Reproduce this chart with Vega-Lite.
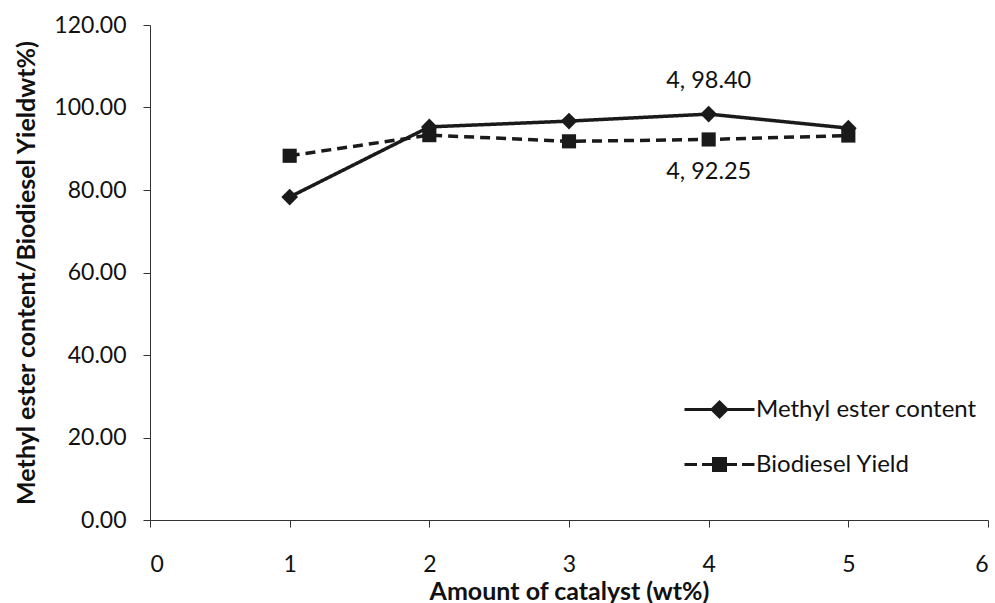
{
  "$schema": "https://vega.github.io/schema/vega-lite/v6.json",
  "width": 838,
  "height": 495,
  "autosize": "none",
  "padding": {"left": 150, "top": 25, "right": 7, "bottom": 83},
  "background": "white",
  "config": {
    "view": {"stroke": null},
    "font": "Lato",
    "axis": {"grid": false, "domainColor": "#333", "tickColor": "#333", "labelColor": "#111", "titleColor": "#111", "labelFont": "Lato", "titleFont": "Lato", "labelFontSize": 23, "titleFontSize": 25, "titleFontWeight": "bold", "tickSize": 7}
  },
  "data": {
    "values": [
      {"x": 1, "y": 78.3, "series": "Methyl ester content", "dash": "solid"},
      {"x": 2, "y": 95.3, "series": "Methyl ester content", "dash": "solid"},
      {"x": 3, "y": 96.7, "series": "Methyl ester content", "dash": "solid"},
      {"x": 4, "y": 98.4, "series": "Methyl ester content", "dash": "solid", "label": "4, 98.40"},
      {"x": 5, "y": 95.0, "series": "Methyl ester content", "dash": "solid"},
      {"x": 1, "y": 88.3, "series": "Biodiesel Yield", "dash": "dashed"},
      {"x": 2, "y": 93.3, "series": "Biodiesel Yield", "dash": "dashed"},
      {"x": 3, "y": 91.8, "series": "Biodiesel Yield", "dash": "dashed"},
      {"x": 4, "y": 92.25, "series": "Biodiesel Yield", "dash": "dashed", "label": "4, 92.25"},
      {"x": 5, "y": 93.2, "series": "Biodiesel Yield", "dash": "dashed"}
    ]
  },
  "encoding": {
    "x": {"field": "x", "type": "quantitative", "scale": {"domain": [0, 6], "nice": false}, "axis": {"values": [0,1,2,3,4,5,6], "title": "Amount of catalyst (wt%)", "labelPadding": 26, "titlePadding": 3}},
    "y": {"field": "y", "type": "quantitative", "scale": {"domain": [0, 120], "nice": false}, "axis": {"values": [0,20,40,60,80,100,120], "format": ".2f", "title": "Methyl ester content/Biodiesel Yieldwt%)", "labelPadding": 17, "titlePadding": 14}}
  },
  "layer": [
    {
      "mark": {"type": "line", "color": "#1a1a1a", "strokeWidth": 3.5},
      "encoding": {
        "strokeDash": {"field": "dash", "type": "nominal", "scale": {"domain": ["solid", "dashed"], "range": [[1, 0], [10, 6]]}, "legend": null}
      }
    },
    {
      "transform": [{"filter": "datum.series === 'Methyl ester content'"}],
      "mark": {"type": "point", "shape": "diamond", "filled": true, "color": "#1a1a1a", "opacity": 1, "size": 280}
    },
    {
      "transform": [{"filter": "datum.series === 'Biodiesel Yield'"}],
      "mark": {"type": "point", "shape": "square", "filled": true, "color": "#1a1a1a", "opacity": 1, "size": 200}
    },
    {
      "transform": [{"filter": "datum.x > 100"}],
      "mark": {"type": "point", "filled": false, "color": "#1a1a1a", "opacity": 1, "strokeWidth": 3},
      "encoding": {
        "shape": {"field": "series", "type": "nominal", "scale": {"domain": ["Methyl ester content", "Biodiesel Yield"], "range": ["M-1.4,0H1.4M0,-0.3L0.3,0L0,0.3L-0.3,0ZM0,-0.18L0.18,0L0,0.18L-0.18,0ZM0,-0.06L0.06,0L0,0.06L-0.06,0Z", "M-1.4,0H-0.9M-0.7,0H-0.2M0.2,0H0.7M0.9,0H1.4M-0.24,-0.24H0.24V0.24H-0.24ZM-0.12,-0.12H0.12V0.12H-0.12ZM-0.03,-0.03H0.03V0.03H-0.03Z"]},
          "legend": {
            "title": null, "orient": "none", "legendX": 543, "legendY": 358,
            "labelFontSize": 24, "labelFont": "Lato", "labelColor": "#111", "labelLimit": 400, "rowPadding": 15, "symbolSize": 2500, "labelOffset": 10,
            "symbolStrokeWidth": 3, "symbolStrokeColor": "#1a1a1a", "symbolOpacity": 1
          }}
      }
    },
    {
      "transform": [{"filter": "datum.label && datum.series === 'Methyl ester content'"}],
      "mark": {"type": "text", "fontSize": 23.5, "font": "Lato", "color": "#111", "dy": -33},
      "encoding": {"text": {"field": "label"}}
    },
    {
      "transform": [{"filter": "datum.label && datum.series === 'Biodiesel Yield'"}],
      "mark": {"type": "text", "fontSize": 23.5, "font": "Lato", "color": "#111", "dy": 33},
      "encoding": {"text": {"field": "label"}}
    }
  ]
}
